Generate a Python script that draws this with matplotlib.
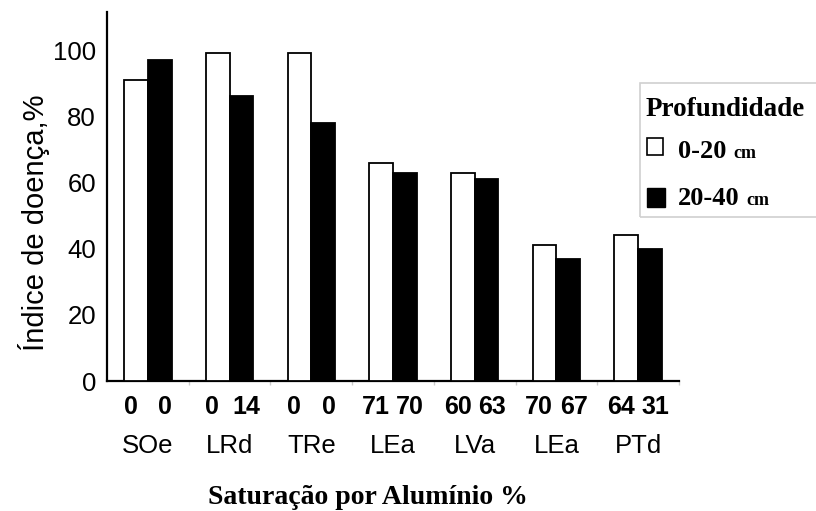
import numpy as np
import matplotlib
matplotlib.use('Agg')
import matplotlib.pyplot as plt
from matplotlib.patches import Rectangle

# soil classes and aluminium saturation (%) per depth
soils = ['SOe', 'LRd', 'TRe', 'LEa', 'LVa', 'LEa', 'PTd']
sat_0_20 = ['0', '0', '0', '71', '60', '70', '64']
sat_20_40 = ['0', '14', '0', '70', '63', '67', '31']

# disease index (%)
idx_0_20 = [91, 99, 99, 66, 63, 41, 44]
idx_20_40 = [97, 86, 78, 63, 61, 37, 40]

sans = 'Liberation Sans'
serif = 'Liberation Serif'

W, H = 816, 511
fig = plt.figure(figsize=(W / 100, H / 100), dpi=100)
ax = fig.add_axes([107 / W, 1 - 381 / H, (679 - 107) / W, (381 - 12) / H])

x = np.arange(len(soils))
bw = 0.29
ax.bar(x - bw / 2, idx_0_20, bw, color='white', edgecolor='black', linewidth=1.3, zorder=3)
ax.bar(x + bw / 2, idx_20_40, bw, color='black', edgecolor='black', linewidth=1.3, zorder=3)

ax.set_xlim(-0.5, len(soils) - 0.52)
ax.set_ylim(0, 111.5)
ax.set_yticks([0, 20, 40, 60, 80, 100])
ax.set_yticklabels(['0', '20', '40', '60', '80', '100'], family=sans, fontsize=18.5)
ax.tick_params(axis='y', length=0, pad=8)
ax.set_xticks(x + 0.5)
ax.set_xticklabels([])
ax.tick_params(axis='x', length=3, color='#cccccc', width=1)

for s in ['top', 'right']:
    ax.spines[s].set_visible(False)
for s in ['left', 'bottom']:
    ax.spines[s].set_linewidth(1.6)

ax.set_ylabel('Índice de doença,%', family=sans, fontsize=21)
ax.yaxis.set_label_coords(-0.1, 0.43)

# aluminium saturation under each bar, soil name under each group
for i in range(len(soils)):
    ax.text(i - 0.21, -8, sat_0_20[i], ha='center', va='center', family=sans,
            fontsize=18, fontweight='bold', clip_on=False)
    ax.text(i + 0.21, -8, sat_20_40[i], ha='center', va='center', family=sans,
            fontsize=18, fontweight='bold', clip_on=False)
    ax.text(i, -19.7, soils[i], ha='center', va='center', family=sans,
            fontsize=18.5, clip_on=False)

fig.text(368 / W, 1 - 497 / H, 'Saturação por Alumínio %', ha='center', va='center',
         family=serif, fontweight='bold', fontsize=20)

# legend, drawn by hand (partly cut off at the right edge)
fig.patches.append(Rectangle((640 / W, 1 - 217 / H), 200 / W, 134 / H,
                             transform=fig.transFigure, facecolor='none',
                             edgecolor='#d0d0d0', linewidth=1.2))
fig.text(646 / W, 1 - 110 / H, 'Profundidade', ha='left', va='center',
         family=serif, fontweight='bold', fontsize=19.5)
fig.patches.append(Rectangle((647 / W, 1 - 155 / H), 16 / W, 17 / H,
                             transform=fig.transFigure, facecolor='white',
                             edgecolor='black', linewidth=1.2))
fig.patches.append(Rectangle((647 / W, 1 - 207 / H), 18 / W, 19 / H,
                             transform=fig.transFigure, facecolor='black',
                             edgecolor='black', linewidth=1.0))
fig.canvas.draw()
renderer = fig.canvas.get_renderer()
for label, ybase in [('0-20', 158), ('20-40', 205)]:
    t = fig.text(678 / W, 1 - ybase / H, label, ha='left', va='baseline',
                 family=serif, fontweight='bold', fontsize=19)
    right = t.get_window_extent(renderer).x1
    fig.text((right + 7) / W, 1 - ybase / H, 'cm', ha='left', va='baseline',
             family=serif, fontweight='bold', fontsize=13)

plt.savefig('out.png', dpi=100)
